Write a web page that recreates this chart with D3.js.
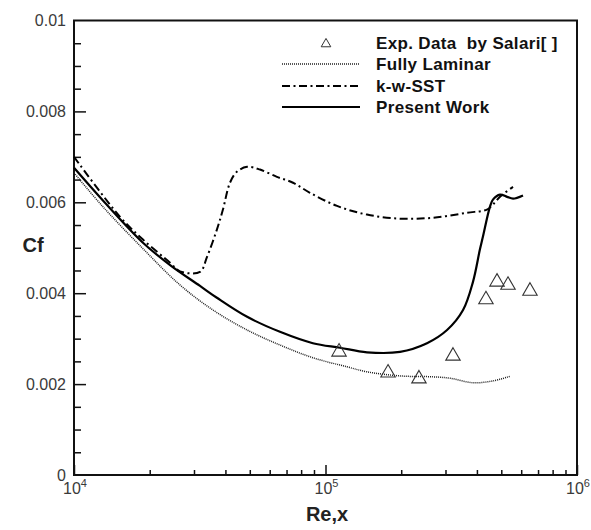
<!DOCTYPE html>
<html>
<head>
<meta charset="utf-8">
<script src="https://cdn.jsdelivr.net/npm/d3@7"></script>
<style>
  html, body { margin: 0; padding: 0; background: #fff; }
  svg { display: block; font-family: Arial, "Liberation Sans", sans-serif; }
</style>
</head>
<body>
<svg id="chart" width="591" height="530"></svg>
<script>
// ---- Data ----
const laminarRe = [10000, 13040, 18800, 26400, 35700, 48800, 65900, 89100, 121800, 146200, 197900, 267200, 312600, 385800, 463200, 540000];
const laminarCf = [0.00665, 0.00590, 0.00498, 0.00418, 0.00363, 0.00319, 0.00286, 0.00258, 0.00238, 0.00227, 0.00218, 0.00216, 0.00213, 0.00203, 0.00207, 0.00217];

const sstRe = [10000, 15240, 18800, 24100, 26400, 31700, 33800, 37000, 39100, 41700, 44400, 48800, 54900, 64100, 74300, 86700, 111100, 146200, 197900, 267200, 365300, 438400, 463200, 494100, 556600];
const sstCf = [0.00700, 0.00568, 0.00518, 0.00467, 0.00448, 0.00447, 0.00480, 0.00540, 0.00584, 0.00643, 0.00667, 0.00678, 0.00672, 0.00656, 0.00643, 0.00621, 0.00592, 0.00573, 0.00564, 0.00566, 0.00577, 0.00584, 0.00595, 0.00612, 0.00634];

const presentRe = [10000, 13280, 18800, 24100, 31700, 37000, 48800, 65900, 89100, 114200, 146200, 197900, 253300, 304300, 352300, 385800, 411000, 422500, 450500, 463200, 494100, 527000, 556800, 610000];
const presentCf = [0.00676, 0.00599, 0.00511, 0.00462, 0.00416, 0.00390, 0.00348, 0.00315, 0.00290, 0.00280, 0.00270, 0.00271, 0.00290, 0.00319, 0.00363, 0.00425, 0.00496, 0.00524, 0.00590, 0.00606, 0.00617, 0.00612, 0.00608, 0.00615];

const expRe = [113200, 177300, 235300, 321300, 434500, 480800, 531700, 650200];
const expCf = [0.00273, 0.00227, 0.00214, 0.00264, 0.00388, 0.00427, 0.00420, 0.00407];

const yTickValues = [0, 0.002, 0.004, 0.006, 0.008, 0.01];
const yTickLabels = ["0", "0.002", "0.004", "0.006", "0.008", "0.01"];
const xTickValues = [1e4, 1e5, 1e6];
const xTickExponents = ["4", "5", "6"];

const legendLabels = ["Exp. Data  by Salari[ ]", "Fully Laminar", "k-w-SST", "Present Work"];

// ---- Layout ----
const svg = d3.select("#chart");
const mLeft = 74, mRight = 577, mTop = 20.5, mBottom = 475;

const x = d3.scaleLog().domain([1e4, 1e6]).range([mLeft, mRight]);
const y = d3.scaleLinear().domain([0, 0.01]).range([mBottom, mTop]);

const axisColor = "#111";
const labelColor = "#3a3a3a";

// frame
svg.append("rect")
  .attr("x", mLeft).attr("y", mTop)
  .attr("width", mRight - mLeft).attr("height", mBottom - mTop)
  .attr("fill", "none").attr("stroke", axisColor).attr("stroke-width", 2);

// x axis ticks (inward)
const xMinor = [];
[1e4, 1e5].forEach(d => { for (let k = 2; k <= 9; k++) xMinor.push(d * k); });

const gxMinor = svg.append("g").attr("transform", `translate(0,${mBottom})`)
  .call(d3.axisBottom(x).tickValues(xMinor).tickSize(-5).tickFormat(""));
const gxMajor = svg.append("g").attr("transform", `translate(0,${mBottom})`)
  .call(d3.axisBottom(x).tickValues(xTickValues).tickSize(-10).tickFormat(""));
[gxMinor, gxMajor].forEach(g => {
  g.select(".domain").remove();
  g.selectAll("line").attr("stroke", axisColor).attr("stroke-width", 1.5);
});

// x tick labels with superscript
xTickValues.forEach((v, i) => {
  const t = svg.append("text")
    .attr("x", x(v) + 1).attr("y", 494)
    .attr("text-anchor", "middle")
    .attr("fill", labelColor)
    .attr("font-size", 16);
  t.append("tspan").text("10");
  t.append("tspan").attr("dy", -7).attr("font-size", 11).text(xTickExponents[i]);
});

// y axis
const yMinor = d3.range(0, 0.01001, 0.0005).filter(v => Math.abs(v / 0.002 - Math.round(v / 0.002)) > 1e-6);
const gyMinor = svg.append("g").attr("transform", `translate(${mLeft},0)`)
  .call(d3.axisLeft(y).tickValues(yMinor).tickSize(-7).tickFormat(""));
const gyMajor = svg.append("g").attr("transform", `translate(${mLeft},0)`)
  .call(d3.axisLeft(y).tickValues(yTickValues).tickSize(-12).tickPadding(8)
    .tickFormat((d, i) => yTickLabels[i]));
[gyMinor, gyMajor].forEach(g => {
  g.select(".domain").remove();
  g.selectAll("line").attr("stroke", axisColor).attr("stroke-width", 1.5);
});
gyMajor.selectAll("text")
  .attr("font-size", 16)
  .attr("font-family", "Arial, 'Liberation Sans', sans-serif")
  .attr("fill", labelColor);
gyMajor.selectAll(".tick").filter(d => d === 0 || d === 0.01).select("line").remove();

// axis titles
svg.append("text").attr("x", 33).attr("y", 252)
  .attr("text-anchor", "middle").attr("font-weight", "bold").attr("font-size", 20)
  .attr("fill", "#222").text("Cf");
svg.append("text").attr("x", 327).attr("y", 521)
  .attr("text-anchor", "middle").attr("font-weight", "bold").attr("font-size", 20)
  .attr("fill", "#222").text("Re,x");

// ---- Curves ----
const line = d3.line().x(d => x(d[0])).y(d => y(d[1])).curve(d3.curveCatmullRom.alpha(0.5));

const plot = svg.append("g");
const zip = (a, b) => a.map((v, i) => [v, b[i]]);

const styles = {
  laminar: { stroke: "#222", width: 1.5, dash: "1,1" },
  sst: { stroke: "#000", width: 2, dash: "8,3.5,2,3.5" },
  present: { stroke: "#000", width: 2.2, dash: null }
};

function drawLine(data, st) {
  const p = plot.append("path").datum(data)
    .attr("d", line)
    .attr("fill", "none")
    .attr("stroke", st.stroke)
    .attr("stroke-width", st.width)
    .attr("stroke-linejoin", "round");
  if (st.dash) p.attr("stroke-dasharray", st.dash);
}
drawLine(zip(laminarRe, laminarCf), styles.laminar);
drawLine(zip(sstRe, sstCf), styles.sst);
drawLine(zip(presentRe, presentCf), styles.present);

// experimental triangles
const tri = d3.symbol().type(d3.symbolTriangle).size(90);
plot.selectAll("path.exp").data(zip(expRe, expCf)).join("path")
  .attr("class", "exp")
  .attr("d", tri)
  .attr("transform", d => `translate(${x(d[0])},${y(d[1]) + 1})`)
  .attr("fill", "none").attr("stroke", "#333").attr("stroke-width", 1.1);

// ---- Legend ----
const legRows = [43, 64, 86, 107];
const legX0 = 282, legX1 = 360, legTextX = 376;
const lg = svg.append("g");
lg.append("path").attr("d", d3.symbol().type(d3.symbolTriangle).size(40))
  .attr("transform", `translate(326,${legRows[0] + 1})`)
  .attr("fill", "none").attr("stroke", "#333").attr("stroke-width", 1);
[styles.laminar, styles.sst, styles.present].forEach((st, i) => {
  const l = lg.append("line")
    .attr("x1", legX0).attr("x2", legX1)
    .attr("y1", legRows[i + 1]).attr("y2", legRows[i + 1])
    .attr("stroke", st.stroke).attr("stroke-width", st.width);
  if (st.dash) l.attr("stroke-dasharray", st.dash);
});
legendLabels.forEach((t, i) => {
  lg.append("text").attr("x", legTextX).attr("y", legRows[i] + 6)
    .attr("font-size", 17).attr("font-weight", "bold").attr("fill", "#111")
    .attr("letter-spacing", 0.35)
    .style("white-space", "pre")
    .text(t);
});
</script>
</body>
</html>
